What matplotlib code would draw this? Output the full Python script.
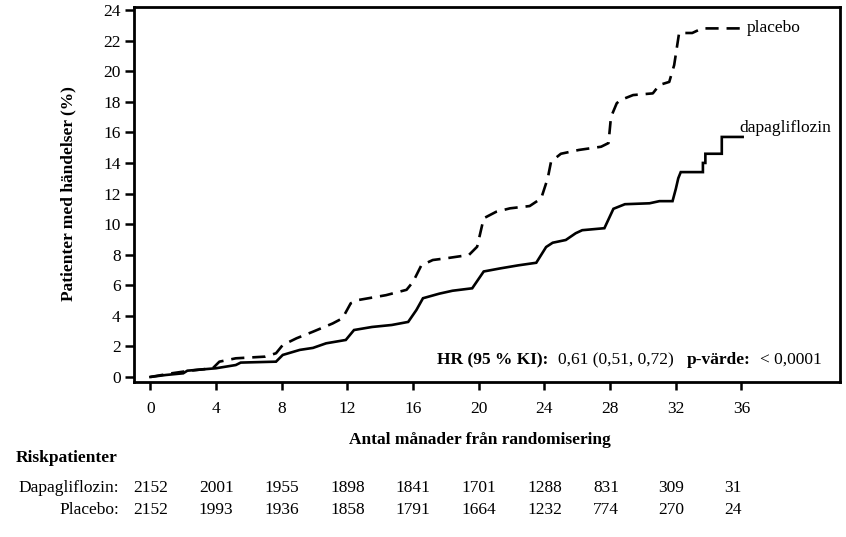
import matplotlib
matplotlib.use("Agg")
import matplotlib.pyplot as plt
import matplotlib.transforms as mtransforms

plt.rcParams['font.family'] = ['Liberation Serif', 'DejaVu Serif']

# cumulative incidence (month, %)
dapa_months = [0, 0.95, 2.0, 2.25, 4.0, 5.2, 5.5, 7.65, 8.06, 9.1, 9.9, 10.7, 11.9, 12.4,
               13.5, 14.7, 15.7, 16.2, 16.6, 17.6, 18.4, 19.6, 20.3, 21.3, 22.4, 23.5,
               24.1, 24.5, 25.3, 25.9, 26.3, 27.65, 28.2, 28.9, 30.4, 31.0, 31.8, 32.0,
               32.15, 32.3, 33.65, 33.65, 33.8, 33.8, 34.8, 34.8, 36.07]
dapa_pct = [0, 0.13, 0.24, 0.41, 0.57, 0.78, 0.94, 1.0, 1.44, 1.77, 1.9, 2.2, 2.42, 3.07,
            3.27, 3.4, 3.6, 4.38, 5.15, 5.45, 5.64, 5.8, 6.9, 7.1, 7.3, 7.47,
            8.5, 8.78, 8.96, 9.4, 9.6, 9.73, 11.0, 11.3, 11.36, 11.5, 11.5, 12.3,
            13.0, 13.4, 13.4, 14.0, 14.0, 14.6, 14.6, 15.7, 15.7]

plac_months = [0, 1.3, 2.4, 3.8, 4.2, 5.2, 7.0, 7.65, 8.06, 8.9, 9.9, 11.1, 11.7, 12.2,
               12.7, 14.35, 15.6, 16.0, 16.5, 17.2, 18.0, 19.4, 19.9, 20.3, 21.05, 21.9,
               23.1, 23.8, 24.2, 24.4, 25.0, 26.1, 27.45, 27.9, 28.05, 28.4, 28.6, 29.4,
               30.6, 31.0, 31.6, 31.9, 32.2, 33.0, 33.6, 36.07]
plac_pct = [0, 0.24, 0.41, 0.57, 1.0, 1.22, 1.33, 1.55, 2.09, 2.53, 2.96, 3.5, 3.84, 4.82,
            5.04, 5.35, 5.7, 6.23, 7.3, 7.65, 7.76, 7.98, 8.52, 10.38, 10.8, 11.03,
            11.18, 11.68, 13.0, 14.08, 14.6, 14.85, 15.06, 15.3, 17.0, 17.9, 18.1, 18.44,
            18.55, 19.1, 19.3, 20.4, 22.5, 22.5, 22.8, 22.8]

risk_months = [0, 4, 8, 12, 16, 20, 24, 28, 32, 36]
risk_dapa = [2152, 2001, 1955, 1898, 1841, 1701, 1288, 831, 309, 31]
risk_plac = [2152, 1993, 1936, 1858, 1791, 1664, 1232, 774, 270, 24]

W, H = 846, 537
fig = plt.figure(figsize=(W / 100, H / 100), dpi=100)


def fx(px):
    return px / W


def fy(py):
    return 1 - py / H


ax = fig.add_axes([fx(134), fy(382), fx(840) - fx(134), fy(7) - fy(382)])

ax.plot(dapa_months, dapa_pct, color='black', lw=1.9, solid_joinstyle='miter')
ax.plot(plac_months, plac_pct, color='black', lw=1.9, linestyle=(0, (5, 3)))

ax.set_xlim(-1.0, 42.0)
ax.set_ylim(-0.33, 24.2)
ax.set_xticks(risk_months)
ax.set_yticks(range(0, 25, 2))
for s in ax.spines.values():
    s.set_linewidth(2.0)
ax.tick_params(axis='x', direction='out', length=6, width=1.8, labelsize=12.5, pad=8)
ax.tick_params(axis='y', direction='out', length=6.5, width=1.8, labelsize=12.5, pad=3)

# curve labels
ax.text(36.3, 22.8, 'placebo', fontsize=12.5, va='center', ha='left')
ax.text(35.9, 16.3, 'dapagliflozin', fontsize=12.5, va='center', ha='left')

# hazard ratio line
fs = 12.5
fig.text(fx(437), fy(360), 'HR (95 % KI):', fontsize=fs, fontweight='bold', va='center')
fig.text(fx(558), fy(360), '0,61 (0,51, 0,72)', fontsize=fs, va='center')
fig.text(fx(687), fy(360), 'p-värde:', fontsize=fs, fontweight='bold', va='center')
fig.text(fx(760), fy(360), '< 0,0001', fontsize=fs, va='center')

fig.text(fx(68), fy(194), 'Patienter med händelser (%)', fontsize=12.5, fontweight='bold',
         rotation=90, ha='center', va='center')
fig.text(fx(480), fy(440), 'Antal månader från randomisering', fontsize=12.5,
         fontweight='bold', ha='center', va='center')

# numbers at risk
fig.text(fx(16), fy(458), 'Riskpatienter', fontsize=12.5, fontweight='bold', va='center')
fig.text(fx(119), fy(488), 'Dapagliflozin:', fontsize=12.5, ha='right', va='center')
fig.text(fx(119), fy(510), 'Placebo:', fontsize=12.5, ha='right', va='center')
trans = mtransforms.blended_transform_factory(ax.transData, fig.transFigure)
for m, d, p in zip(risk_months, risk_dapa, risk_plac):
    fig.text(m - 1.05, fy(488), str(d), fontsize=12.5, ha='left', va='center', transform=trans)
    fig.text(m - 1.05, fy(510), str(p), fontsize=12.5, ha='left', va='center', transform=trans)

fig.savefig('out.png', dpi=100)
